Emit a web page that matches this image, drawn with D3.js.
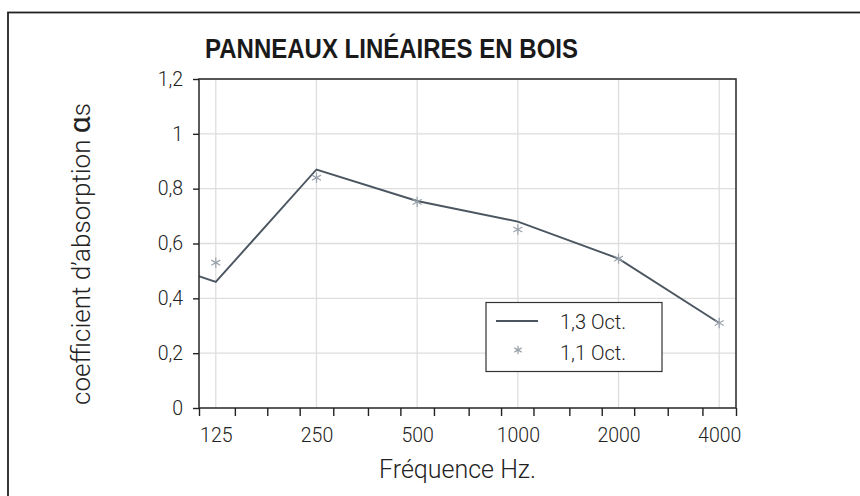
<!DOCTYPE html>
<html><head><meta charset="utf-8">
<script src="https://cdn.jsdelivr.net/npm/d3@7"></script>
<style>
html,body{margin:0;padding:0;background:#fff;}
svg{display:block;}
</style></head>
<body>
<script>
// ---- data ----
const title = "PANNEAUX LINÉAIRES EN BOIS";
const xTitle = "Fréquence Hz.";
const yTitleText = "coefficient d’absorption ";
const yTitleSymbol = "α";
const yTitleSuffix = "s";
// third-octave bands shown on the axis
const bands = [125,160,200,250,315,400,500,630,800,1000,1250,1600,2000,2500,3150,4000];
const xLabelFreqs = [125,250,500,1000,2000,4000];
const xLabels = ["125","250","500","1000","2000","4000"];
const yTicks = [0,0.2,0.4,0.6,0.8,1,1.2];
const yLabels = ["0","0,2","0,4","0,6","0,8","1","1,2"];
// series "1,3 Oct." (line)
const lineName = "1,3 Oct.";
const lineFreqs = [100,125,250,500,1000,2000,4000];
const lineValues = [0.50,0.46,0.87,0.755,0.68,0.545,0.31];
// series "1,1 Oct." (asterisks)
const starName = "1,1 Oct.";
const starFreqs = [125,250,500,1000,2000,4000];
const starValues = [0.53,0.84,0.752,0.651,0.545,0.31];

// ---- layout ----
const W = 860, H = 496;
const plot = {l:199, r:736, t:79, b:408};
const sixth = Math.pow(2, 1/6);

const svg = d3.select("body").append("svg").attr("width", W).attr("height", H);

// outer frame
svg.append("rect").attr("x",8).attr("y",12.5).attr("width",W).attr("height",H)
  .attr("fill","none").attr("stroke","#222").attr("stroke-width",1.8);

const x = d3.scaleLog().base(2).domain([bands[0]/sixth, bands[bands.length-1]*sixth]).range([plot.l, plot.r]);
const y = d3.scaleLinear().domain([0,1.2]).range([plot.b, plot.t]);

const edges = bands.map(f => f/sixth).concat([bands[bands.length-1]*sixth]);

// grid
const g = svg.append("g");
g.selectAll("line.hg").data(yTicks.slice(1)).join("line")
  .attr("x1",plot.l).attr("x2",plot.r).attr("y1",d=>y(d)).attr("y2",d=>y(d))
  .attr("stroke","#dedede").attr("stroke-width",1.3);
g.selectAll("line.vg").data(xLabelFreqs).join("line")
  .attr("x1",d=>x(d)).attr("x2",d=>x(d)).attr("y1",plot.t).attr("y2",plot.b)
  .attr("stroke","#dedede").attr("stroke-width",1.3);

// clip
svg.append("clipPath").attr("id","clip").append("rect")
  .attr("x",plot.l).attr("y",plot.t).attr("width",plot.r-plot.l).attr("height",plot.b-plot.t);

// line series
const lineData = lineFreqs.map((f,i)=>[f,lineValues[i]]);
svg.append("path").datum(lineData).attr("clip-path","url(#clip)")
  .attr("d", d3.line().x(d=>x(d[0])).y(d=>y(d[1])))
  .attr("fill","none").attr("stroke","#4b5661").attr("stroke-width",1.9);

// star series
const star = d3.symbol().type(d3.symbolAsterisk).size(75);
svg.selectAll("path.star").data(starFreqs.map((f,i)=>[f,starValues[i]])).join("path")
  .attr("transform",d=>`translate(${x(d[0])},${y(d[1])})`)
  .attr("d", star).attr("fill","none").attr("stroke","#9aa2ab").attr("stroke-width",1.2);

// plot box
svg.append("rect").attr("x",plot.l).attr("y",plot.t).attr("width",plot.r-plot.l).attr("height",plot.b-plot.t)
  .attr("fill","none").attr("stroke","#333").attr("stroke-width",1.6);

const font = "Roboto, 'Liberation Sans', Arial, sans-serif";

// y axis
const yAxis = svg.append("g").attr("transform",`translate(${plot.l},0)`)
  .call(d3.axisLeft(y).tickValues(yTicks).tickSize(6).tickPadding(10).tickFormat((d,i)=>yLabels[i]));
yAxis.select(".domain").remove();
yAxis.selectAll("line").attr("stroke","#222").attr("stroke-width",1.4);
yAxis.selectAll("text").attr("font-family",font).attr("font-weight",300).attr("font-size",19.5).attr("fill","#222");

// x axis ticks at band edges
const xAxis = svg.append("g").attr("transform",`translate(0,${plot.b})`)
  .call(d3.axisBottom(x).tickValues(edges).tickSize(8).tickFormat(""));
xAxis.select(".domain").remove();
xAxis.selectAll("line").attr("stroke","#222").attr("stroke-width",1.4);

// x labels at octave centres
const xLab = svg.append("g").attr("transform",`translate(0,${plot.b})`)
  .call(d3.axisBottom(x).tickValues(xLabelFreqs).tickSize(0).tickPadding(20).tickFormat((d,i)=>xLabels[i]));
xLab.select(".domain").remove();
xLab.selectAll("text").attr("font-family",font).attr("font-weight",300).attr("font-size",19.5).attr("fill","#222");

// title
svg.append("text").attr("x",205).attr("y",58).text(title)
  .attr("font-family","'Liberation Sans Narrow','Liberation Sans',Arial,sans-serif")
  .attr("font-weight","bold").attr("font-size",27).attr("fill","#1a1a1a")
  .attr("textLength",373).attr("lengthAdjust","spacingAndGlyphs");

// axis titles
svg.append("text").attr("x",(plot.l+plot.r)/2 - 10).attr("y",478).attr("text-anchor","middle")
  .attr("font-family",font).attr("font-weight",300).attr("font-size",25).attr("fill","#222").text(xTitle);

const yt = svg.append("text").attr("transform",`translate(90,254) rotate(-90)`).attr("text-anchor","middle")
  .attr("font-family",font).attr("font-weight",300).attr("font-size",26).attr("fill","#222");
yt.append("tspan").text(yTitleText);
yt.append("tspan").attr("font-size",30).attr("font-weight",400).text(yTitleSymbol);
yt.append("tspan").text(yTitleSuffix);

// legend
const lg = svg.append("g");
lg.append("rect").attr("x",486).attr("y",302.5).attr("width",176).attr("height",69)
  .attr("fill","#fff").attr("stroke","#333").attr("stroke-width",1.2);
lg.append("line").attr("x1",496).attr("x2",538).attr("y1",321).attr("y2",321)
  .attr("stroke","#4b5661").attr("stroke-width",1.9);
lg.append("path").attr("transform","translate(518,350)").attr("d",d3.symbol().type(d3.symbolAsterisk).size(50)())
  .attr("fill","none").attr("stroke","#9aa2ab").attr("stroke-width",1.2);
lg.append("text").attr("x",560).attr("y",328.5).text(lineName)
  .attr("font-family",font).attr("font-weight",300).attr("font-size",20).attr("fill","#222");
lg.append("text").attr("x",560).attr("y",359.5).text(starName)
  .attr("font-family",font).attr("font-weight",300).attr("font-size",20).attr("fill","#222");
</script>
</body></html>
